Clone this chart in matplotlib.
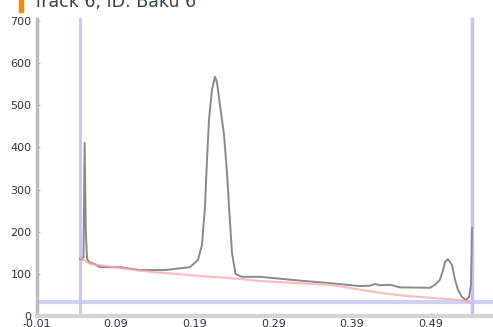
import matplotlib
matplotlib.use("Agg")
import matplotlib.pyplot as plt
from matplotlib.patches import Rectangle

title = "Track 6, ID: Baku 6"

# densitometric profile (Rf, intensity)
rf = [0.0446, 0.0470, 0.0490, 0.0505, 0.0520, 0.0535, 0.0560, 0.0620, 0.0700,
      0.0954, 0.1208, 0.1525, 0.1843, 0.1944, 0.1995, 0.2033, 0.2059, 0.2084,
      0.2122, 0.2160, 0.2185, 0.2224, 0.2275, 0.2313, 0.2338, 0.2376, 0.2420,
      0.2500, 0.2732, 0.3240, 0.3621, 0.4000, 0.4129, 0.4190, 0.4256, 0.4383,
      0.4510, 0.4891, 0.4954, 0.5017, 0.5056, 0.5081, 0.5119, 0.5170, 0.5208,
      0.5246, 0.5297, 0.5348, 0.5386, 0.5411, 0.5424]
intensity = [135, 134, 140, 411, 200, 136, 128, 124, 116,
             116, 109, 109, 116, 133, 169, 259, 371, 466,
             537, 568, 555, 500, 430, 340, 260, 150, 100,
             93, 93, 84, 78, 71, 72, 76, 73, 74,
             68, 67, 74, 86, 109, 128, 135, 121, 86,
             62, 45, 38, 45, 74, 209]

# baseline under the profile
base_rf = [0.0446, 0.0573, 0.0954, 0.1335, 0.1970, 0.2478, 0.2732, 0.3621,
           0.4256, 0.4573, 0.4916, 0.5272, 0.5399]
base_val = [138, 124, 114, 105, 95, 88, 83, 74, 55, 48, 43, 38, 33]

# integration limits and threshold
start_rf = 0.0446
end_rf = 0.5424
threshold = 33

xticks = [-0.01, 0.09, 0.19, 0.29, 0.39, 0.49]
xtick_labels = ["-0.01", "0.09", "0.19", "0.29", "0.39", "0.49"]
yticks = [0, 100, 200, 300, 400, 500, 600, 700]

W, H = 493, 327
fig = plt.figure(figsize=(W / 100, H / 100), dpi=100)
ax = fig.add_axes([37 / W, 1 - 316 / H, (W - 37) / W, (316 - 19) / H])

ax.set_xlim(-0.01, -0.01 + (W - 37) / 787.5)
ax.set_ylim(0, 705)

ax.axhline(threshold, color="#cfcff8", lw=3.0, zorder=1)
ax.axvline(start_rf, color="#c4c4f6", lw=2.0, zorder=1, clip_on=False)
ax.axvline(end_rf, color="#c4c4f6", lw=2.5, zorder=1, clip_on=False)

ax.plot(rf, intensity, color="#8a8a8a", lw=1.4, zorder=3)
ax.plot(base_rf, base_val, color="#ffa8a8", lw=1.6, alpha=0.75, zorder=4)

for side in ("top", "right"):
    ax.spines[side].set_visible(False)
ax.spines["left"].set_color("#bdbdbd")
ax.spines["left"].set_linewidth(2.5)
ax.spines["bottom"].set_color("#d4d4d4")
ax.spines["bottom"].set_linewidth(3.0)

ax.set_xticks(xticks)
ax.set_xticklabels(xtick_labels)
ax.set_yticks(yticks)
ax.tick_params(axis="both", direction="in", length=2.5, width=1,
               color="#b0b0b0", labelsize=8, labelcolor="#333344")
ax.tick_params(axis="y", pad=4)
ax.tick_params(axis="x", pad=2)

fig.text(33 / W, 1 - 7 / H, title, fontsize=12.5, color="#334455",
         va="baseline", ha="left")
fig.patches.append(Rectangle((19 / W, 1 - 12 / H), 4 / W, 12 / H,
                             transform=fig.transFigure, color="#f28a10",
                             zorder=5))

fig.savefig("out.png", dpi=100)
